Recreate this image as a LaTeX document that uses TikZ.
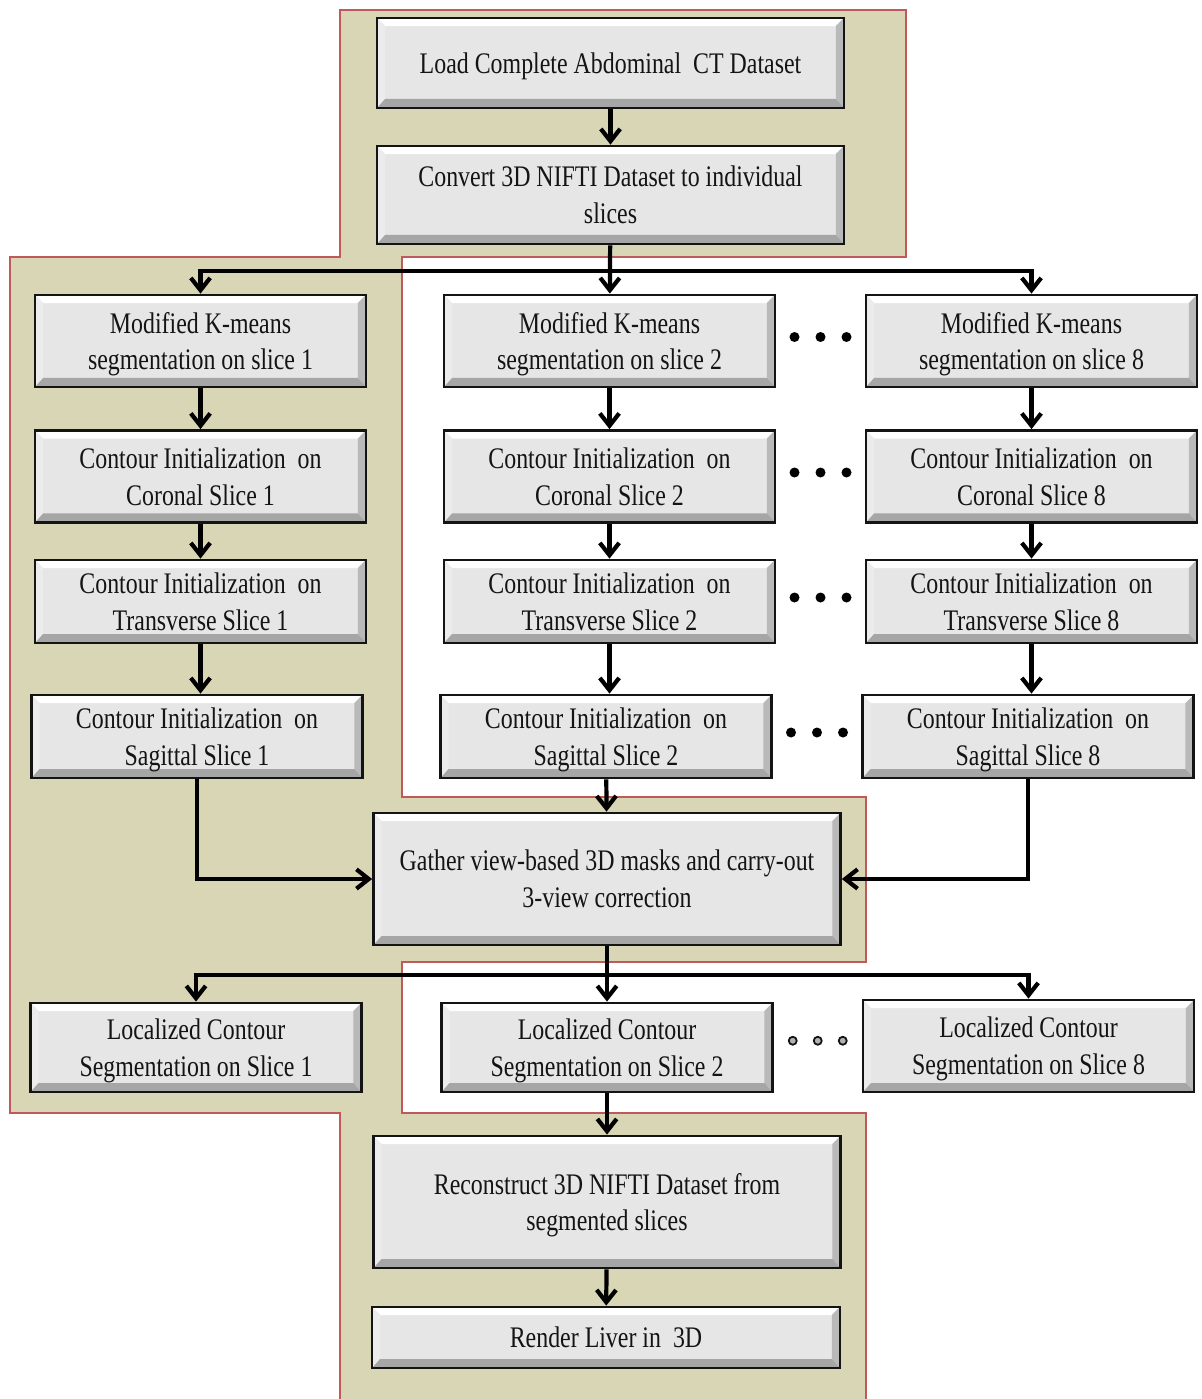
\documentclass[tikz,border=0pt]{standalone}
\usepackage{fontspec}
\setmainfont{Liberation Serif}[FakeStretch=0.8]
\usepackage{xcolor}
\definecolor{khaki}{RGB}{217,214,181}
\definecolor{rimred}{RGB}{192,90,90}
\definecolor{boxgray}{RGB}{230,230,230}
\definecolor{inkgray}{RGB}{20,20,20}
\usepackage{tikz}
\usetikzlibrary{arrows.meta, calc, positioning}

\begin{document}
\begin{tikzpicture}[x=0.02cm, y=-0.02cm,
  box/.style={draw=inkgray, line width=1.6pt, fill=boxgray, text=inkgray, align=center,
    font=\fontsize{17}{21}\selectfont, minimum width=6.62cm, minimum height=1.84cm, inner sep=2pt,
    text depth=-2pt,
    path picture={
      \coordinate (nw) at (path picture bounding box.north west);
      \coordinate (ne) at (path picture bounding box.north east);
      \coordinate (sw) at (path picture bounding box.south west);
      \coordinate (se) at (path picture bounding box.south east);
      \fill[white] (nw) -- (ne) -- ($(ne)+(-0.16cm,-0.16cm)$) -- ($(nw)+(0.16cm,-0.16cm)$) -- cycle;
      \fill[gray!15] (nw) -- (sw) -- ($(sw)+(0.16cm,0.18cm)$) -- ($(nw)+(0.16cm,-0.16cm)$) -- cycle;
      \fill[gray!55] (ne) -- (se) -- ($(se)+(-0.16cm,0.18cm)$) -- ($(ne)+(-0.16cm,-0.16cm)$) -- cycle;
      \fill[gray!70] (sw) -- (se) -- ($(se)+(-0.16cm,0.18cm)$) -- ($(sw)+(0.16cm,0.18cm)$) -- cycle;
    }},
  wide/.style={box, minimum width=9.34cm},
  flow/.style={draw=black, line width=2.4pt},
  >={Straight Barb[length=7pt, width=11pt]}
]
\useasboundingbox (0,0) rectangle (1201,1399);
% backdrop
\fill[khaki, draw=rimred, line width=0.7pt] (340,10) -- (906,10) -- (906,257) -- (402,257) -- (402,797)
  -- (866,797) -- (866,962) -- (402,962) -- (402,1113) -- (866,1113) -- (866,1400) -- (340,1400)
  -- (340,1113) -- (10,1113) -- (10,257) -- (340,257) -- cycle;

\node[wide, minimum height=1.8cm] (load) at (610.5,63) {Load Complete Abdominal\ \ CT Dataset};
\node[wide, minimum height=1.96cm] (conv) at (610.5,195) {Convert 3D NIFTI Dataset to individual\\ slices};

\node[box] (km1) at (200.5,341) {Modified K-means\\ segmentation on slice 1};
\node[box] (km2) at (609.5,341) {Modified K-means\\ segmentation on slice 2};
\node[box] (km8) at (1031.5,341) {Modified K-means\\ segmentation on slice 8};

\node[box] (co1) at (200.5,476.5) {Contour Initialization\ \ on\\ Coronal Slice 1};
\node[box] (co2) at (609.5,476.5) {Contour Initialization\ \ on\\ Coronal Slice 2};
\node[box] (co8) at (1031.5,476.5) {Contour Initialization\ \ on\\ Coronal Slice 8};

\node[box, minimum height=1.66cm] (tr1) at (200.5,601.5) {Contour Initialization\ \ on\\ Transverse Slice 1};
\node[box, minimum height=1.66cm] (tr2) at (609.5,601.5) {Contour Initialization\ \ on\\ Transverse Slice 2};
\node[box, minimum height=1.66cm] (tr8) at (1031.5,601.5) {Contour Initialization\ \ on\\ Transverse Slice 8};

\node[box, minimum height=1.66cm] (sg1) at (197,736.5) {Contour Initialization\ \ on\\ Sagittal Slice 1};
\node[box, minimum height=1.66cm] (sg2) at (606,736.5) {Contour Initialization\ \ on\\ Sagittal Slice 2};
\node[box, minimum height=1.66cm] (sg8) at (1028,736.5) {Contour Initialization\ \ on\\ Sagittal Slice 8};

\node[wide, minimum height=2.64cm] (gather) at (607,879) {Gather view-based 3D masks and carry-out\\ 3-view correction};

\node[box, minimum height=1.78cm] (lc1) at (196,1047.5) {Localized Contour\\ Segmentation on Slice 1};
\node[box, minimum height=1.78cm] (lc2) at (607,1047.5) {Localized Contour\\ Segmentation on Slice 2};
\node[box, minimum height=1.84cm] (lc8) at (1028.5,1046) {Localized Contour\\ Segmentation on Slice 8};

\node[wide, minimum height=2.64cm] (recon) at (607,1202) {Reconstruct 3D NIFTI Dataset from\\ segmented slices};
\node[wide, minimum height=1.22cm, minimum width=9.36cm] (render) at (606,1337.5) {Render Liver in\ \ 3D};

% connectors
\coordinate (bus1) at (610.5,271);
\coordinate (bus2) at (607,975);
\draw[flow, ->] (load) -- (conv);
\draw[flow, ->] (conv) -- (km2);
\draw[flow, ->] (bus1) -| (km1.north);
\draw[flow, ->] (bus1) -| (km8.north);
\foreach \c in {1,2,8} {
  \draw[flow, ->] (km\c) -- (co\c);
  \draw[flow, ->] (co\c) -- (tr\c);
  \draw[flow, ->] (tr\c.south) -- (tr\c.south |- sg\c.north);
}
\draw[flow, ->] (sg2) -- (gather);
\draw[flow, ->] (sg1.south) |- (gather.west);
\draw[flow, ->] (sg8.south) |- (gather.east);
\draw[flow, ->] (gather) -- (lc2);
\draw[flow, ->] (bus2) -| (lc1.north);
\draw[flow, ->] (bus2) -| (lc8.north);
\draw[flow, ->] (lc2) -- (recon);
\draw[flow, ->] (recon) -- (render);

% ellipsis dots
\foreach \a/\b in {km2/km8, co2/co8, tr2/tr8, sg2/sg8}
  \foreach \d in {-26,0,26}
    \fill[black] ($(\a.east)!0.5!(\b.west)+(\d,-4)$) circle[radius=0.1cm];
\foreach \d in {-25,0,25}
  \filldraw[fill=gray!60, draw=inkgray, line width=1pt] ($(lc2.east)!0.5!(lc8.west)+(\d,-6)$) circle[radius=0.08cm];
\end{tikzpicture}
\end{document}
